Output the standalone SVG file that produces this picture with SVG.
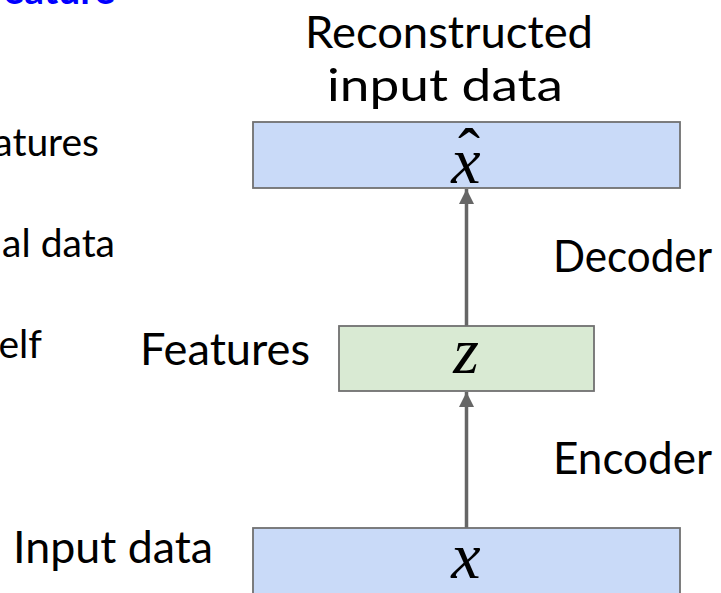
<svg xmlns="http://www.w3.org/2000/svg" width="721" height="593" viewBox="0 0 721 593">
<defs>
<style>
.lbl{font-family:Lato,"Source Sans Pro","Open Sans",sans-serif;font-size:45px;fill:#000}
.side{font-family:Lato,"Source Sans Pro","Open Sans",sans-serif;font-size:39px;fill:#000}
.math{font-family:"Liberation Serif","Times New Roman",serif;font-style:italic;font-size:66px;fill:#000}
.blue{fill:#c9daf8;stroke:#707070;stroke-width:1.8}
.green{fill:#d9ead3;stroke:#707070;stroke-width:1.8}
.conn{stroke:#666666;stroke-width:3.5;fill:none}
</style>
<marker id="ah" viewBox="0 0 15 15" refX="15" refY="7.5" markerWidth="15" markerHeight="15" markerUnits="userSpaceOnUse" orient="auto">
<path d="M0,0 L15,7.5 L0,15 z" fill="#666666"/>
</marker>
</defs>
<rect width="721" height="593" fill="#ffffff"/>
<g id="side-notes">
<text class="side" x="115" y="4" text-anchor="end" style="fill:#0000ff;font-weight:bold">eature</text>
<text class="side" x="99" y="156" text-anchor="end">atures</text>
<text class="side" x="115" y="257" text-anchor="end">al data</text>
<text class="side" x="42" y="358" text-anchor="end">elf</text>
</g>
<g id="connectors">
<line class="conn" x1="466.5" y1="528" x2="466.5" y2="392" marker-end="url(#ah)"/>
<line class="conn" x1="466.5" y1="326" x2="466.5" y2="189" marker-end="url(#ah)"/>
</g>
<g id="node-xhat">
<rect class="blue" x="253" y="122" width="427" height="66"/>
<text class="math" x="466" y="183" text-anchor="middle">x</text>
<text class="math" x="469" y="174" text-anchor="middle" style="font-style:normal">ˆ</text>
<text class="lbl" x="305" y="48" textLength="288" lengthAdjust="spacingAndGlyphs">Reconstructed</text>
<text class="lbl" x="327" y="101" textLength="236" lengthAdjust="spacingAndGlyphs">input data</text>
</g>
<g id="node-z">
<rect class="green" x="339" y="326" width="255" height="65"/>
<text class="math" x="466" y="373" text-anchor="middle">z</text>
<text class="lbl" x="140" y="365" textLength="170" lengthAdjust="spacingAndGlyphs">Features</text>
</g>
<g id="node-x">
<rect class="blue" x="253" y="528" width="427" height="66"/>
<text class="math" x="466" y="578" text-anchor="middle">x</text>
<text class="lbl" x="13" y="563" textLength="200" lengthAdjust="spacingAndGlyphs">Input data</text>
</g>
<g id="edge-labels">
<text class="lbl" x="553" y="272" textLength="159" lengthAdjust="spacingAndGlyphs">Decoder</text>
<text class="lbl" x="553" y="474" textLength="159" lengthAdjust="spacingAndGlyphs">Encoder</text>
</g>
</svg>
